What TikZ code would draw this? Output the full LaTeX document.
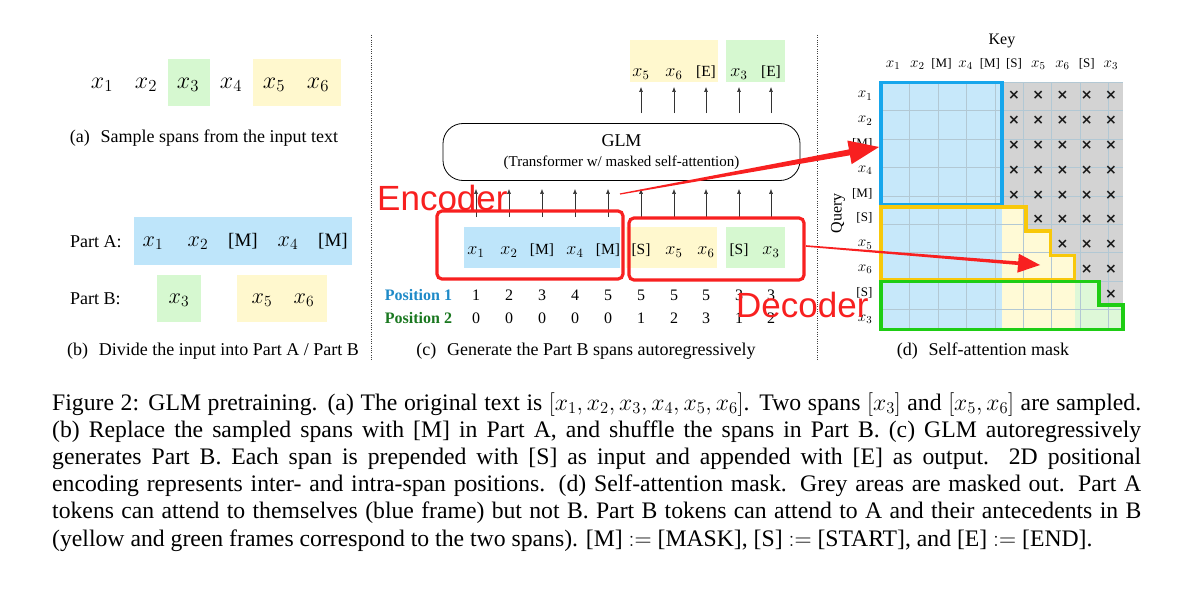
\RequirePackage{fix-cm}
\documentclass[tikz,border=0pt]{standalone}
\usepackage{amsmath}
\usepackage[no-math]{fontspec}
\setmainfont{Liberation Serif}
\newfontfamily\annofont{Liberation Sans}
\newfontfamily\crossfont{DejaVu Sans}
\usetikzlibrary{arrows.meta, positioning, calc}
\usepackage{xcolor}
\definecolor{spanblue}{RGB}{190,229,250}
\definecolor{spanyellow}{RGB}{255,248,206}
\definecolor{spangreen}{RGB}{214,248,208}
\definecolor{maskblue}{RGB}{199,232,250}
\definecolor{maskyellow}{RGB}{255,250,214}
\definecolor{maskgreen}{RGB}{222,248,216}
\definecolor{maskgrey}{RGB}{211,211,211}
\definecolor{frameblue}{RGB}{22,166,236}
\definecolor{frameyellow}{RGB}{248,200,10}
\definecolor{framegreen}{RGB}{30,205,20}
\definecolor{posblue}{RGB}{30,138,200}
\definecolor{posgreen}{RGB}{26,120,32}
\definecolor{anno}{RGB}{248,32,32}
\definecolor{cellline}{RGB}{178,200,212}

\newcommand{\setfs}[2]{\fontsize{#1}{#2}\selectfont}
\newcommand{\xv}[1]{\scalebox{1.17}{$x_{#1}$}}
% tapered red annotation arrow: tail, tip, tail half-width, shaft half-width, head length, head half-width
\newcommand{\annoarrow}[6]{%
  \coordinate (hb) at ($(#2)!#5!(#1)$);
  \fill[anno] ($(#1)!#3!90:(#2)$) -- ($(hb)!#4!90:(#2)$) -- ($(hb)!#6!90:(#2)$)
    -- (#2) -- ($(hb)!#6!-90:(#2)$) -- ($(hb)!#4!-90:(#2)$) -- ($(#1)!#3!-90:(#2)$) -- cycle;}

\tikzset{
  tokA/.style={inner sep=0pt, anchor=mid, font=\setfs{24}{28}},
  tokB/.style={inner sep=0pt, anchor=mid, font=\setfs{19}{23}},
  tokC/.style={inner sep=0pt, anchor=mid, font=\setfs{15.5}{18}},
  posnum/.style={inner sep=0pt, anchor=mid, font=\setfs{16}{19}},
  subcap/.style={inner sep=0pt, anchor=mid, font=\setfs{18}{22}},
  masklbl/.style={inner sep=0pt, font=\setfs{13}{15}},
  maskx/.style={inner sep=0pt, font=\crossfont\bfseries\setfs{14}{16}, text=black!90},
  uparrow/.style={-{Latex[length=5pt,width=4pt]}, line width=0.6pt, draw=black!80},
  redbox/.style={draw=anno, line width=3.2pt, rounded corners=5pt},
  annolabel/.style={text=anno, font=\annofont\setfs{35}{40}, inner sep=0pt, anchor=base west},
  sepline/.style={line width=0.9pt, dash pattern=on 1pt off 1.3pt, draw=black!75},
  gridline/.style={draw=cellline, line width=0.5pt},
}

\begin{document}
\begin{tikzpicture}[x=1pt, y=-1pt]
  \fill[white] (0,0) rectangle (1200,591);
  \useasboundingbox (0,0) rectangle (1200,591);

  % (a) sample spans
  \fill[spangreen] (168,59) rectangle (210,106);
  \fill[spanyellow] (253,59) rectangle (341,106);
  \foreach \x/\t [count=\i] in {102/1, 146/2, 188/3, 231/4, 274/5, 318/6}
    \node[tokA] (a\i) at (\x,86) {$x_\t$};
  \node[subcap] (capa) at (204,140) {(a)\hspace{0.6em}Sample spans from the input text};

  % (b) part A / part B
  \fill[spanblue] (134,217) rectangle (352,265);
  \fill[spangreen] (157,275) rectangle (201,322);
  \fill[spanyellow] (237,275) rectangle (327,322);
  \node[subcap, anchor=mid west] (parta) at (70,245) {Part A:};
  \node[subcap, anchor=mid west] (partb) at (70,302) {Part B:};
  \foreach \x/\t [count=\i] in {153/\xv1, 198/\xv2, 243/{[M]}, 288/\xv4, 333/{[M]}}
    \node[tokB] (pa\i) at (\x,244) {\t};
  \foreach \x/\t [count=\i] in {179/\xv3, 262/\xv5, 304/\xv6}
    \node[tokB] (pb\i) at (\x,301) {\t};
  \node[subcap] (capb) at (213,353) {(b)\hspace{0.6em}Divide the input into Part A / Part B};

  \draw[sepline] (371,35) -- (371,360);
  \draw[sepline] (817,35) -- (817,360);

  % (c) autoregressive generation
  \fill[spanblue] (464,227) rectangle (620,268);
  \fill[spanyellow] (626,227) rectangle (717,268);
  \fill[spangreen] (726,227) rectangle (785,268);
  \fill[spanyellow] (630,40) rectangle (718,82);
  \fill[spangreen] (726,40) rectangle (785,82);
  \node[draw, line width=0.8pt, rounded corners=20pt, minimum width=357pt, minimum height=57pt,
        align=center, inner sep=0pt] (glm) at (621.5,152)
    {\setfs{18}{20}GLM\\[8pt]\setfs{15}{18}(Transformer w/ masked self-attention)};
  \foreach \x/\t/\p/\q [count=\i] in {476/\xv1/1/0, 509/\xv2/2/0, 542/{[M]}/3/0, 575/\xv4/4/0,
      608/{[M]}/5/0, 641/{[S]}/5/1, 674/\xv5/5/2, 706/\xv6/5/3, 739/{[S]}/3/1, 771/\xv3/3/2} {
    \node[tokC] (in\i) at (\x,252) {\t};
    \node[posnum] (pone\i) at (\x,298) {\p};
    \node[posnum] (ptwo\i) at (\x,321) {\q};
    \draw[uparrow, shorten >=8pt] ($(in\i.mid)+(0,-35)$) -- (in\i.mid |- glm.south);
  }
  \foreach \x/\t [count=\i] in {641/\xv5, 674/\xv6, 706/{[E]}, 739/\xv3, 771/{[E]}} {
    \node[tokC] (out\i) at (\x,74) {\t};
    \draw[uparrow] ($(out\i.mid |- glm.north)+(0,-10)$) -- ($(out\i.mid)+(0,13)$);
  }
  \node[posnum, text=posblue, font=\setfs{16}{19}\bfseries] (posone) at (418.5,298) {Position 1};
  \node[posnum, text=posgreen, font=\setfs{16}{19}\bfseries] (postwo) at (418.5,321) {Position 2};
  \node[subcap] (capc) at (586,353) {(c)\hspace{0.6em}Generate the Part B spans autoregressively};

  % (d) self-attention mask
  \begin{scope}[shift={(881,82)}, x=24.2pt, y=-24.8pt]
    \fill[maskblue] (0,0) rectangle (5,10);
    \fill[maskgrey] (5,0) rectangle (10,10);
    \foreach \r/\n in {5/6, 6/7, 7/8, 8/8, 9/8}
      \fill[maskyellow] (5,\r) rectangle (\n,\r+1);
    \fill[maskgreen] (8,8) rectangle (9,9);
    \fill[maskgreen] (8,9) rectangle (10,10);
    \draw[gridline] (0,0) grid (10,10);
    \foreach \r/\s in {0/5, 1/5, 2/5, 3/5, 4/5, 5/6, 6/7, 7/8, 8/9}
      \foreach \c in {\s,...,9}
        \node[maskx] (m\r\c) at (\c+0.5,\r+0.55) {×};
    \draw[frameblue, line width=3.5pt] (0,0.02) rectangle (5,4.96);
    \draw[frameyellow, line width=3.5pt] (0,5.04) -- (6,5.04) -- (6,6) -- (7,6) -- (7,7)
      -- (8,7) -- (8,7.96) -- (0,7.96) -- cycle;
    \draw[framegreen, line width=3.5pt] (0,8.04) -- (9,8.04) -- (9,9) -- (10,9) -- (10,9.98)
      -- (0,9.98) -- cycle;
    \foreach \t [count=\i from 0] in {\xv1, \xv2, {[M]}, \xv4, {[M]}, {[S]}, \xv5, \xv6, {[S]}, \xv3} {
      \node[masklbl, anchor=mid] (key\i) at (\i+0.5,-0.68) {\t};
      \node[masklbl, anchor=mid east] (qry\i) at (-0.35,\i+0.55) {\t};
    }
    \node[masklbl, font=\setfs{16}{18}, anchor=mid] (key) at (5,-1.6) {Key};
    \node[masklbl, font=\setfs{16}{18}, rotate=90] (query) at (-1.78,5.3) {Query};
  \end{scope}
  \node[subcap] (capd) at (983,353) {(d)\hspace{0.6em}Self-attention mask};

  % red annotations
  \draw[redbox] (437,211) rectangle (623,279);
  \draw[redbox] (629,218) rectangle (804,280);
  \coordinate (enctail) at (620,194);
  \coordinate (enctip) at (879,147);
  \coordinate (dectail) at (806,246);
  \coordinate (dectip) at (1040,265);
  \annoarrow{enctail}{enctip}{0.6pt}{3pt}{30pt}{12pt}
  \annoarrow{dectail}{dectip}{0.8pt}{1.8pt}{22pt}{9.5pt}
  \node[annolabel] (enc) at (377,211) {Encoder};
  \node[annolabel] (dec) at (736,317) {Decoder};

  % figure caption
  \node[inner sep=0pt, anchor=base west] (caption) at (52,410) {\parbox[t]{1089pt}{\setfs{23.7}{27.2}%
    Figure 2: GLM pretraining. (a) The original text is $[x_1, x_2, x_3, x_4, x_5, x_6]$. Two spans $[x_3]$ and $[x_5, x_6]$ are sampled.\linebreak
    (b) Replace the sampled spans with [M] in Part A, and shuffle the spans in Part B. (c) GLM autoregressively\linebreak
    generates Part B. Each span is prepended with [S] as input and appended with [E] as output.\ \ 2D positional\linebreak
    encoding represents inter- and intra-span positions. (d) Self-attention mask. Grey areas are masked out. Part A\linebreak
    tokens can attend to themselves (blue frame) but not B. Part B tokens can attend to A and their antecedents in B\linebreak
    (yellow and green frames correspond to the two spans). [M] $:=$ [MASK], [S] $:=$ [START], and [E] $:=$ [END].}};
\end{tikzpicture}
\end{document}
